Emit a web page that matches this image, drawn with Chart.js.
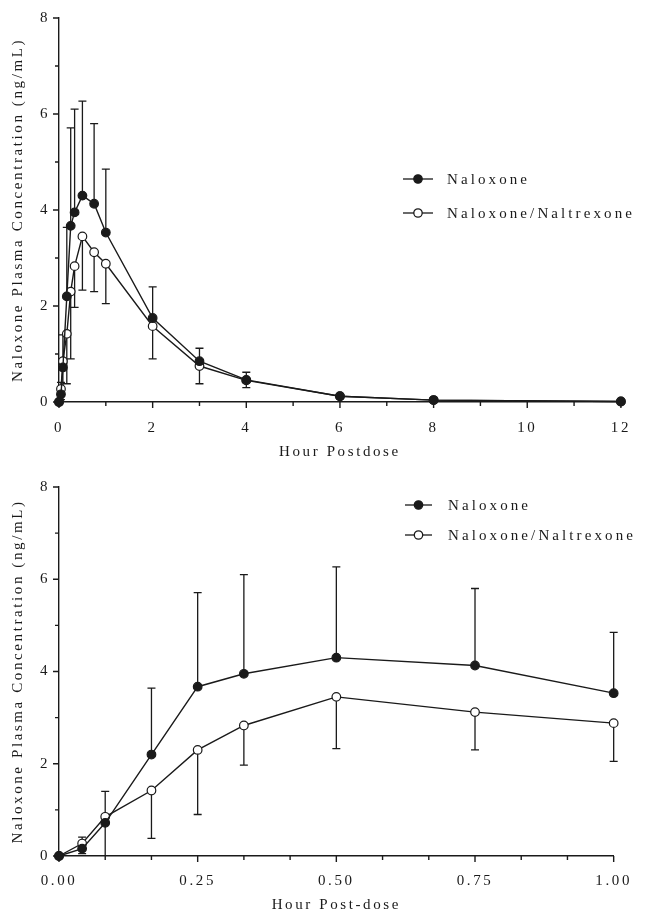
<!DOCTYPE html>
<html><head><meta charset="utf-8">
<script src="https://cdn.jsdelivr.net/npm/chart.js@4/dist/chart.umd.min.js"></script>
<style>
html,body{margin:0;padding:0;background:#fff;width:648px;height:913px;overflow:hidden}
#c1{position:absolute;left:0;top:0}
#c2{position:absolute;left:0;top:460px}
</style></head><body>
<canvas id="c1" width="648" height="460"></canvas>
<canvas id="c2" width="648" height="453"></canvas>
<script>
// ---- data ----
const timeHours     = [0, 0.0417, 0.0833, 0.1667, 0.25, 0.3333, 0.5, 0.75, 1, 2, 3, 4, 6, 8, 12];
const naloxoneMean  = [0, 0.16, 0.72, 2.20, 3.67, 3.95, 4.30, 4.13, 3.53, 1.75, 0.85, 0.46, 0.12, 0.04, 0.01];
const naloxoneErrUp = [0, 0.25, 0.68, 1.44, 2.04, 2.15, 1.97, 1.67, 1.32, 0.65, 0.27, 0.16, 0.03, 0.01, 0];
const comboMean     = [0, 0.27, 0.85, 1.42, 2.30, 2.83, 3.45, 3.12, 2.88, 1.58, 0.75, 0.45, 0.12, 0.04, 0.01];
const comboErrDown  = [0, 0.22, 0.90, 1.04, 1.40, 0.86, 1.12, 0.82, 0.83, 0.68, 0.37, 0.15, 0.03, 0.01, 0];
const seriesLabels  = ['Naloxone', 'Naloxone/Naltrexone'];
const yMajorTicks   = [0, 2, 4, 6, 8];
const yMinorTicks   = [1, 3, 5, 7];
const xMajorFull    = [0, 2, 4, 6, 8, 10, 12];
const xMinorFull    = [1, 3, 5, 7, 9, 11];
const xMajorEarly   = [0, 0.25, 0.5, 0.75, 1];
const xMinorEarly   = [1/12, 2/12, 4/12, 5/12, 7/12, 8/12, 10/12, 11/12];
const yTitleText    = 'Naloxone Plasma Concentration (ng/mL)';
const xTitleFull    = 'Hour Postdose';
const xTitleEarly   = 'Hour Post-dose';

const INK = '#1a1a1a';
const FONT = "'Liberation Serif', 'Times New Roman', serif";
const SPACING = '2.6px';

const spacingPlugin = {
  id: 'spacing',
  beforeLayout(chart) { chart.ctx.letterSpacing = SPACING; },
  beforeDraw(chart) { chart.ctx.letterSpacing = SPACING; }
};

const errorBarPlugin = {
  id: 'errorBars',
  beforeDatasetsDraw(chart, args, o) {
    const {ctx, scales: {x, y}} = chart;
    ctx.save();
    ctx.strokeStyle = INK; ctx.lineWidth = 1.3;
    o.bars.forEach(b => {
      b.x.forEach((t, i) => {
        if (t > x.max + 1e-9) return;
        const m = b.mean[i], e = b.err[i];
        if (!e) return;
        const end = Math.max(0, m + b.dir * e);
        const px = x.getPixelForValue(t);
        const p0 = y.getPixelForValue(m), p1 = y.getPixelForValue(end);
        ctx.beginPath();
        ctx.moveTo(px, p0); ctx.lineTo(px, p1);
        if (end > 0) { ctx.moveTo(px - 4, p1); ctx.lineTo(px + 4, p1); }
        ctx.stroke();
      });
    });
    ctx.restore();
  }
};

const tickMarkPlugin = {
  id: 'tickMarks',
  beforeDatasetsDraw(chart, args, o) {
    const {ctx, scales: {x, y}, chartArea: a} = chart;
    ctx.save();
    ctx.strokeStyle = INK; ctx.lineWidth = 1.4;
    ctx.beginPath();
    o.xMajor.forEach(v => { const p = x.getPixelForValue(v); ctx.moveTo(p, a.bottom); ctx.lineTo(p, a.bottom + 6); });
    o.xMinor.forEach(v => { const p = x.getPixelForValue(v); ctx.moveTo(p, a.bottom); ctx.lineTo(p, a.bottom + 4); });
    o.yMajor.forEach(v => { const p = y.getPixelForValue(v); ctx.moveTo(a.left, p); ctx.lineTo(a.left - 6, p); });
    o.yMinor.forEach(v => { const p = y.getPixelForValue(v); ctx.moveTo(a.left, p); ctx.lineTo(a.left - 4, p); });
    ctx.stroke();
    ctx.restore();
  }
};

const legendPlugin = {
  id: 'sideLegend',
  afterDraw(chart, args, o) {
    const ctx = chart.ctx;
    ctx.save();
    ctx.letterSpacing = '3.1px';
    ctx.font = '15px ' + FONT;
    ctx.fillStyle = INK;
    ctx.textBaseline = 'middle';
    ctx.textAlign = 'left';
    chart.data.datasets.forEach((ds, i) => {
      const yy = o.y[i];
      ctx.strokeStyle = INK; ctx.lineWidth = 1.3;
      ctx.beginPath(); ctx.moveTo(o.x0, yy); ctx.lineTo(o.x1, yy); ctx.stroke();
      ctx.beginPath(); ctx.arc((o.x0 + o.x1) / 2, yy, 4.2, 0, Math.PI * 2);
      ctx.fillStyle = ds.pointBackgroundColor; ctx.fill(); ctx.stroke();
      ctx.fillStyle = INK;
      ctx.fillText(ds.label, o.tx, yy + 1);
    });
    ctx.restore();
  }
};

function makeChart(id, opt) {
  const n = opt.count;
  const xs = timeHours.slice(0, n);
  const pts = (arr) => xs.map((t, i) => ({x: t, y: arr[i]}));
  return new Chart(document.getElementById(id), {
    type: 'line',
    data: {
      datasets: [
        { label: seriesLabels[0], data: pts(naloxoneMean), borderColor: INK, borderWidth: 1.4,
          pointBackgroundColor: INK, pointBorderColor: INK, pointRadius: 4.3, pointBorderWidth: 1.2,
          tension: 0, clip: false },
        { label: seriesLabels[1], data: pts(comboMean), borderColor: INK, borderWidth: 1.4,
          pointBackgroundColor: '#ffffff', pointBorderColor: INK, pointRadius: 4.3, pointBorderWidth: 1.2,
          tension: 0, clip: false }
      ]
    },
    options: {
      responsive: false, animation: false, devicePixelRatio: 1,
      layout: { padding: { top: opt.padTop, right: opt.padRight, left: 0, bottom: 0 } },
      events: [],
      scales: {
        x: {
          type: 'linear', min: 0, max: opt.xMax,
          afterBuildTicks: s => { s.ticks = opt.xMajor.map(v => ({value: v})); },
          afterFit: s => { s.height = opt.xHeight; },
          ticks: { color: INK, font: { family: FONT, size: 15 }, padding: opt.xTickPad,
                   maxRotation: 0, autoSkip: false,
                   callback: v => opt.xFmt(v) },
          grid: { display: true, drawOnChartArea: false, drawTicks: false },
          border: { display: true, color: INK, width: 1.4 },
          title: { display: true, text: opt.xTitle, color: INK,
                   font: { family: FONT, size: 15, lineHeight: 1 }, padding: { top: 0, bottom: opt.xTitlePad } }
        },
        y: {
          type: 'linear', min: 0, max: 8,
          afterBuildTicks: s => { s.ticks = yMajorTicks.map(v => ({value: v})); },
          afterFit: s => { s.width = 59; },
          ticks: { color: INK, font: { family: FONT, size: 15 }, padding: 9, callback: v => String(v) },
          grid: { display: true, drawOnChartArea: false, drawTicks: false },
          border: { display: true, color: INK, width: 1.4 },
          title: { display: true, text: yTitleText, color: INK,
                   font: { family: FONT, size: 15, lineHeight: 1.2 }, padding: { top: 9, bottom: 0 } }
        }
      },
      plugins: {
        legend: { display: false },
        tooltip: { enabled: false },
        errorBars: { bars: [
          { x: xs, mean: naloxoneMean, err: naloxoneErrUp, dir: 1 },
          { x: xs, mean: comboMean, err: comboErrDown, dir: -1 }
        ] },
        tickMarks: { xMajor: opt.xMajor, xMinor: opt.xMinor, yMajor: yMajorTicks, yMinor: yMinorTicks },
        sideLegend: opt.legend
      }
    },
    plugins: [spacingPlugin, errorBarPlugin, tickMarkPlugin, legendPlugin]
  });
}

makeChart('c1', {
  count: timeHours.length, xMax: 12, xMajor: xMajorFull, xMinor: xMinorFull,
  xFmt: v => String(v), xTitle: xTitleFull,
  padTop: 17, padRight: 10, xHeight: 58, xTickPad: 17, xTitlePad: 0.5,
  legend: { x0: 403, x1: 433, tx: 447, y: [179, 213] }
});
makeChart('c2', {
  count: timeHours.filter(t => t <= 1).length, xMax: 1, xMajor: xMajorEarly, xMinor: xMinorEarly,
  xFmt: v => v.toFixed(2), xTitle: xTitleEarly,
  padTop: 27, padRight: 33, xHeight: 57, xTickPad: 16, xTitlePad: 0,
  legend: { x0: 405, x1: 432, tx: 448, y: [45, 75] }
});
</script>
</body></html>
